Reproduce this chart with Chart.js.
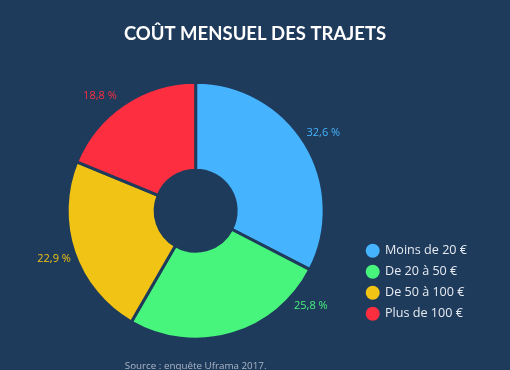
<!DOCTYPE html>
<html>
<head>
<meta charset="utf-8">
<script src="https://cdn.jsdelivr.net/npm/chart.js@4/dist/chart.umd.min.js"></script>
<style>
  html, body { margin: 0; padding: 0; background: #1f3b5c; }
  #wrap { width: 510px; height: 370px; position: relative; }
</style>
</head>
<body>
<div id="wrap"><canvas id="c" width="510" height="370"></canvas></div>
<script>
const titleText = "COÛT MENSUEL DES TRAJETS";
const sourceText = "Source : enquête Uframa 2017.";
const categories = ["Moins de 20 €", "De 20 à 50 €", "De 50 à 100 €", "Plus de 100 €"];
const shares = [32.6, 25.8, 22.9, 18.8];
const sliceColors = ["#45b3fd", "#47f57c", "#f0c314", "#fd2e40"];
const labelAngleShift = [0, -34, 0, -6];

const bg = "#1f3b5c";
const legendNudge = { x: -33, y: 236 };

const labelPlugin = {
  id: "sliceLabels",
  afterDatasetsDraw(chart) {
    const ctx = chart.ctx;
    const meta = chart.getDatasetMeta(0);
    ctx.save();
    ctx.font = "11px 'Open Sans'";
    ctx.textAlign = "center";
    ctx.textBaseline = "middle";
    meta.data.forEach((arc, i) => {
      const p = arc.getProps(["x", "y", "startAngle", "endAngle", "outerRadius"], true);
      const mid = (p.startAngle + p.endAngle) / 2 + labelAngleShift[i] * Math.PI / 180;
      const r = p.outerRadius + 21;
      ctx.fillStyle = sliceColors[i];
      ctx.fillText(shares[i].toFixed(1).replace(".", ",") + " %", p.x + Math.cos(mid) * r, p.y + Math.sin(mid) * r);
    });
    ctx.restore();
  }
};

const legendNudgePlugin = {
  id: "legendNudge",
  afterLayout(chart) {
    const lg = chart.legend;
    if (!lg) return;
    lg.left += legendNudge.x; lg.right += legendNudge.x;
    lg.top += legendNudge.y; lg.bottom += legendNudge.y;
  }
};

new Chart(document.getElementById("c"), {
  type: "doughnut",
  data: {
    labels: categories,
    datasets: [{
      data: shares,
      backgroundColor: sliceColors,
      borderColor: bg,
      borderWidth: 3,
      hoverOffset: 0
    }]
  },
  options: {
    responsive: false,
    animation: false,
    cutout: "31.5%",
    layout: { padding: 0 },
    plugins: {
      tooltip: { enabled: false },
      title: {
        display: true,
        text: titleText,
        color: "#ffffff",
        font: { family: "Lato", size: 18.5, weight: "bold" },
        padding: { top: 23, bottom: 35.5 }
      },
      subtitle: {
        display: true,
        position: "bottom",
        fullSize: false,
        text: sourceText,
        color: "#aab6c6",
        font: { family: "'Open Sans'", size: 9.8 },
        padding: { top: 19.5, bottom: -2 }
      },
      legend: {
        position: "right",
        align: "start",
        labels: {
          color: "#e6ebf1",
          font: { family: "'Open Sans'", size: 12.6 },
          usePointStyle: true,
          pointStyle: "circle",
          boxWidth: 12,
          boxHeight: 12,
          padding: 8.4
        }
      }
    }
  },
  plugins: [labelPlugin, legendNudgePlugin]
});
</script>
</body>
</html>
